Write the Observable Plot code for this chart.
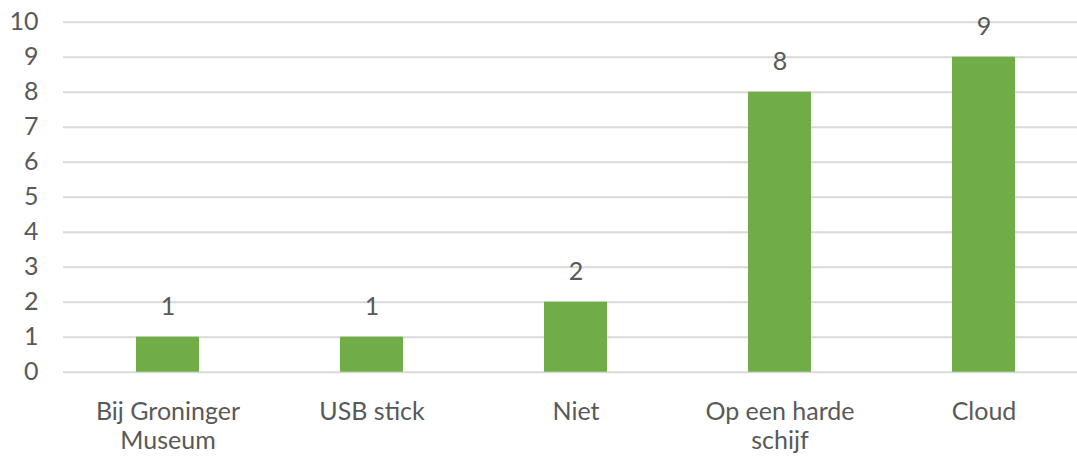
<!DOCTYPE html>
<html>
<head>
<meta charset="utf-8">
<script src="https://cdn.jsdelivr.net/npm/d3@7"></script>
<script src="https://cdn.jsdelivr.net/npm/@observablehq/plot@0.6"></script>
<style>
  html, body { margin: 0; padding: 0; background: #fff; }
</style>
</head>
<body>
<div id="chart"></div>
<script>
const categories = ["Bij Groninger Museum", "USB stick", "Niet", "Op een harde schijf", "Cloud"];
const tickLabels = ["Bij Groninger\nMuseum", "USB stick", "Niet", "Op een harde\nschijf", "Cloud"];
const values = [1, 1, 2, 8, 9];
const yTicks = [0, 1, 2, 3, 4, 5, 6, 7, 8, 9, 10];

const data = categories.map((c, i) => ({ category: c, value: values[i] }));
const labelOf = new Map(categories.map((c, i) => [c, tickLabels[i]]));

const chart = Plot.plot({
  width: 1077,
  height: 459,
  marginTop: 21.7,
  marginBottom: 87.3,
  marginLeft: 63,
  marginRight: 0,
  style: { fontFamily: "Lato, sans-serif", fontSize: "25px", color: "#595959", background: "#fff" },
  x: {
    domain: categories,
    range: [63.85, 1087.4],
    paddingInner: 0.689,
    paddingOuter: 0.3445,
    label: null
  },
  y: { domain: [0, 10], label: null },
  marks: [
    Plot.ruleY(yTicks, { stroke: "#D9D9D9", strokeWidth: 2 }),
    Plot.barY(data, { x: "category", y: "value", fill: "#70AD47" }),
    Plot.text(data, {
      x: "category", y: "value", text: d => String(d.value),
      dy: -30, fill: "#595959", fontSize: 25
    }),
    Plot.axisY({
      ticks: yTicks, tickSize: 0, tickPadding: 25, fill: "#595959",
      fontSize: 25, label: null
    }),
    Plot.axisX({
      tickSize: 0, tickPadding: 26, fill: "#595959", fontSize: 25,
      lineHeight: 1.2, tickFormat: d => labelOf.get(d), label: null
    })
  ]
});
document.getElementById("chart").append(chart);
</script>
</body>
</html>
